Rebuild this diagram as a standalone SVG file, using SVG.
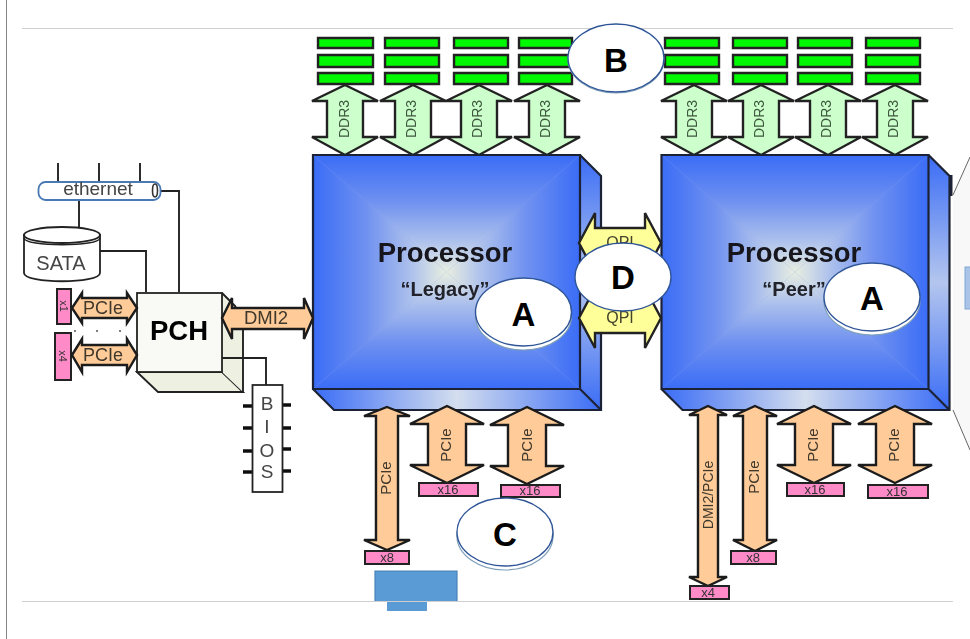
<svg xmlns="http://www.w3.org/2000/svg" width="970" height="639" viewBox="0 0 970 639">
<style>
text{font-family:"Liberation Sans",Arial,sans-serif;text-anchor:middle}
.ln{fill:none;stroke:#222;stroke-width:1.9}
.rule{stroke:#cfcfcf;stroke-width:1.2;fill:none}
.ram{fill:#00f800;stroke:#222;stroke-width:2.400}
.ddr{fill:#ccffcc;stroke:#222;stroke-width:2.400}
.pcie{fill:#ffcc99;stroke:#1a1a1a;stroke-width:2.400}
.qpi{fill:#ffff99;stroke:#222;stroke-width:2.400}
.pink{fill:#ff8ac8;stroke:#222;stroke-width:2}
.lab{fill:#3c563c;font-size:14px}
.pl{fill:#3f382c;font-size:15px}
.lbl{fill:#fff;stroke:#2f5597;stroke-width:1.4}
.sh{fill:#fff;stroke:#7f9fb8;stroke-width:1.2}
.big{font-family:"Liberation Sans",Arial,sans-serif;font-weight:bold;font-size:33px;fill:#000}
.proc{font-weight:bold;font-size:27.500px;fill:#14141a}
.sub{font-weight:bold;font-size:20px;fill:#22232c}
.edge{fill:none;stroke:#1f2435;stroke-width:2.200}
</style>
<defs>
<filter id="soft" x="0" y="0" width="970" height="639" filterUnits="userSpaceOnUse"><feGaussianBlur stdDeviation="0.6"/></filter>
<linearGradient id="gT" x1="0" y1="0" x2="0" y2="1"><stop offset="0" stop-color="#3a6cf6"/><stop offset="0.4" stop-color="#6f91f0"/><stop offset="0.75" stop-color="#b0c3ec"/><stop offset="1" stop-color="#e8eee0"/></linearGradient>
<linearGradient id="gB" x1="0" y1="1" x2="0" y2="0"><stop offset="0" stop-color="#3a6cf6"/><stop offset="0.4" stop-color="#6f91f0"/><stop offset="0.75" stop-color="#b0c3ec"/><stop offset="1" stop-color="#e8eee0"/></linearGradient>
<linearGradient id="gL" x1="0" y1="0" x2="1" y2="0"><stop offset="0" stop-color="#3a6cf6"/><stop offset="0.4" stop-color="#6f91f0"/><stop offset="0.75" stop-color="#b0c3ec"/><stop offset="1" stop-color="#e8eee0"/></linearGradient>
<linearGradient id="gR" x1="1" y1="0" x2="0" y2="0"><stop offset="0" stop-color="#3a6cf6"/><stop offset="0.4" stop-color="#6f91f0"/><stop offset="0.75" stop-color="#b0c3ec"/><stop offset="1" stop-color="#e8eee0"/></linearGradient>
<linearGradient id="gS" x1="0" y1="0" x2="0" y2="1"><stop offset="0" stop-color="#3a6cf6"/><stop offset="0.5" stop-color="#b4c6ee"/><stop offset="1" stop-color="#3a6cf6"/></linearGradient>
<linearGradient id="gH" x1="0" y1="0" x2="1" y2="0"><stop offset="0" stop-color="#3a6cf6"/><stop offset="0.5" stop-color="#d4deee"/><stop offset="1" stop-color="#3a6cf6"/></linearGradient>
<path id="a-ddr" d="M0 85L33 101H18V137H33L0 155L-33 137H-18V101H-33Z" class="ddr"/>
<path id="a-16" d="M0 0L37 18H19V59H37L0 77L-37 59H-19V18H-37Z" class="pcie"/>
<g id="cpu">
<rect x="0" y="0" width="267" height="234" fill="#84a3ee"/>
<path d="M0 0H267L133.500 117Z" fill="url(#gT)"/>
<path d="M0 234H267L133.500 117Z" fill="url(#gB)"/>
<path d="M0 0V234L133.500 117Z" fill="url(#gL)"/>
<path d="M267 0V234L133.500 117Z" fill="url(#gR)"/>
<path d="M267 0L288 21V255L267 234Z" fill="url(#gS)"/>
<path d="M0 234H267L288 255H21Z" fill="url(#gH)"/>
<path d="M0 0H267V234H0ZM267 0L288 21V255H21L0 234M267 234L288 255" class="edge"/>
</g>
</defs>

<g id="frame">
<path d="M6.500 0V639" fill="none" stroke="#888" stroke-width="1"/>
<path d="M22 28.500H953" class="rule"/>
<path d="M953 195L970 157V450L953 410Z" fill="#f8f8f8"/>
<path d="M953 195L970 157M953 410L970 450" fill="none" stroke="#666" stroke-width="1"/>
<rect x="965" y="267" width="6" height="42" fill="#a9c4e6" stroke="#7fa8d8"/>
</g>

<g filter="url(#soft)">
<g id="connectors">
<path class="ln" d="M58 163V182M99 163V182M140 163V182M79 200V228M160 191H179V292M100 251H146V292"/>
</g>

<g id="ethernet">
<rect x="38.500" y="182" width="122" height="18" rx="7" fill="#fff" stroke="#4a7ab5" stroke-width="1.800"/>
<ellipse cx="155" cy="190.500" rx="2.500" ry="6.500" fill="none" stroke="#333" stroke-width="1.600"/>
<text x="98" y="195" style="font-size:19px;fill:#444">ethernet</text>
</g>

<g id="sata">
<path d="M24 235V273C24 284 100 284 100 273V235Z" fill="#fff" stroke="#222" stroke-width="1.800"/>
<ellipse cx="62" cy="235" rx="38" ry="8" fill="#fff" stroke="#222" stroke-width="1.800"/>
<path d="M24 238C24 247 100 247 100 238" fill="none" stroke="#222" stroke-width="1.500"/>
<text x="61" y="270" style="font-size:20px;fill:#444">SATA</text>
</g>

<g id="pch">
<path d="M137 372L158 392H243L222 372Z" fill="#eef1e2" stroke="#222" stroke-width="1.800"/>
<path d="M222 293L243 315V392L222 372Z" fill="#eef1e2"/>
<path d="M222 293L236 307M243 328V392" class="ln"/>
<rect x="137" y="293" width="85" height="79" fill="#f9faf5" stroke="#222" stroke-width="1.800"/>
<text x="179" y="340" style="font-size:27.500px;font-weight:bold;fill:#000">PCH</text>
</g>

<g id="pcie-x1">
<rect x="57" y="289" width="14" height="35" class="pink"/>
<text transform="translate(60 306) rotate(90)" style="font-size:11px;fill:#333">x1</text>
<path d="M72 308L82 293V298H127V293L137 308L127 323V318H82V323Z" class="pcie"/>
<text x="103" y="314" class="pl" style="font-size:18px">PCIe</text>
</g>
<g id="pcie-x4">
<rect x="55" y="333" width="16" height="47" class="pink"/>
<text transform="translate(59 356) rotate(90)" style="font-size:11px;fill:#333">x4</text>
<path d="M72 355L82 339V345H127V339L137 355L127 372V365H82V372Z" class="pcie"/>
<text x="103" y="361" class="pl" style="font-size:18px">PCIe</text>
</g>
<g id="dots" fill="#555"><circle cx="75" cy="331" r="1"/><circle cx="97" cy="331" r="1"/><circle cx="120" cy="331" r="1"/></g>

<g id="bios">
<path d="M222 358H266V385" class="ln"/>
<path d="M243 406H252M243 428H252M243 451H252M243 472H252M282 405H291M282 428H291M282 449H291M282 471H291" fill="none" stroke="#111" stroke-width="3.600"/>
<rect x="252.500" y="385" width="30" height="107" fill="#fff" stroke="#222" stroke-width="1.800"/>
<g style="font-size:19px;fill:#444"><text x="267" y="410">B</text><text x="267" y="433">I</text><text x="267" y="457">O</text><text x="267" y="478">S</text></g>
</g>

<g id="ram-left">
<path class="ram" d="M318 38H373V48H318ZM318 55H373V67H318ZM318 73H373V84H318ZM385 38H439V48H385ZM385 55H439V67H385ZM385 73H439V84H385ZM454 38H508V48H454ZM454 55H508V67H454ZM454 73H508V84H454ZM519 38H572V48H519ZM519 55H572V67H519ZM519 73H572V84H519Z"/>
</g>
<g id="ram-right">
<path class="ram" d="M665 38H719V48H665ZM665 55H719V67H665ZM665 73H719V84H665ZM733 38H787V48H733ZM733 55H787V67H733ZM733 73H787V84H733ZM798 38H852V48H798ZM798 55H852V67H798ZM798 73H852V84H798ZM866 38H920V48H866ZM866 55H920V67H866ZM866 73H920V84H866Z"/>
</g>

<g id="ddr3-arrows">
<use href="#a-ddr" x="345"/><use href="#a-ddr" x="413"/><use href="#a-ddr" x="479"/><use href="#a-ddr" x="547"/>
<use href="#a-ddr" x="694"/><use href="#a-ddr" x="761"/><use href="#a-ddr" x="828"/><use href="#a-ddr" x="895"/>
<g class="lab">
<text transform="translate(349 119) rotate(-90)">DDR3</text><text transform="translate(416 119) rotate(-90)">DDR3</text><text transform="translate(482 119) rotate(-90)">DDR3</text><text transform="translate(550 119) rotate(-90)">DDR3</text>
<text transform="translate(697 119) rotate(-90)">DDR3</text><text transform="translate(764 119) rotate(-90)">DDR3</text><text transform="translate(831 119) rotate(-90)">DDR3</text><text transform="translate(898 119) rotate(-90)">DDR3</text>
</g>
</g>

<g id="processor-legacy">
<use href="#cpu" x="313" y="155"/>
<text x="445" y="262" class="proc">Processor</text>
<text x="445" y="296" class="sub">“Legacy”</text>
</g>
<g id="processor-peer">
<use href="#cpu" x="661.500" y="155"/>
<text x="794" y="262" class="proc">Processor</text>
<text x="794" y="296" class="sub">“Peer”</text>
</g>
<path id="right-edge" d="M951 175V196" fill="none" stroke="#1f2435" stroke-width="3"/>

<g id="dmi2">
<path d="M222 318L232 298V308H304V298L313 318L304 339V329H232V339Z" class="pcie"/>
<text x="266" y="324" class="pl" style="font-size:18.500px">DMI2</text>
</g>

<g id="qpi">
<path d="M579 243L595 213V228H645V213L661 243L645 273V258H595V273Z" class="qpi"/>
<path d="M579 318L595 288V303H645V288L661 318L645 348V333H595V348Z" class="qpi"/>
<g style="font-size:16px;fill:#44442c"><text x="620" y="248">QPI</text><text x="620" y="323">QPI</text></g>
</g>

<g id="pcie-left">
<path d="M387 407L410 416H398V540H410L387 550L364 540H376V416H364Z" class="pcie"/>
<use href="#a-16" x="447" y="406"/><use href="#a-16" x="527" y="407"/>
<g class="pl"><text transform="translate(391 478) rotate(-90)">PCIe</text><text transform="translate(451 445) rotate(-90)">PCIe</text><text transform="translate(532 445) rotate(-90)">PCIe</text></g>
<rect x="419" y="483" width="59" height="13" class="pink"/><rect x="501" y="485" width="59" height="12" class="pink"/><rect x="365" y="551" width="44" height="13" class="pink"/>
<g style="font-size:13px;fill:#333"><text x="448" y="494">x16</text><text x="530" y="495">x16</text><text x="387" y="562">x8</text></g>
</g>

<g id="pcie-right">
<path d="M708 406L727 415H718V577H727L708 586L689 577H698V415H689Z" class="pcie"/>
<path d="M755 406L777 416H767V540H777L755 551L733 540H743V416H733Z" class="pcie"/>
<use href="#a-16" x="814" y="406"/><use href="#a-16" x="895" y="406"/>
<g class="pl"><text transform="translate(713 495) rotate(-90)" style="font-size:14px">DMI2/PCIe</text><text transform="translate(759 477) rotate(-90)">PCIe</text><text transform="translate(818 445) rotate(-90)">PCIe</text><text transform="translate(899 445) rotate(-90)">PCIe</text></g>
<rect x="787" y="483" width="57" height="13" class="pink"/><rect x="868" y="485" width="60" height="13" class="pink"/><rect x="731" y="551" width="45" height="13" class="pink"/><rect x="690" y="586" width="39" height="13" class="pink"/>
<g style="font-size:13px;fill:#333"><text x="815" y="494">x16</text><text x="897" y="496">x16</text><text x="753" y="562">x8</text><text x="708" y="597">x4</text></g>
</g>
</g>

<g id="shape-bottom">
<path d="M375 571H457V602H427V611H387V602H375Z" fill="#5b9bd5"/>
<path d="M375 602V571H457V602" fill="none" stroke="#4a82b8" stroke-width="1.200"/>
<path d="M22 601.500H953" class="rule"/>
</g>

<g id="label-b"><ellipse cx="616" cy="59" rx="48" ry="34" class="sh"/><ellipse cx="616" cy="58" rx="48" ry="34" class="lbl"/><text x="616" y="72" class="big">B</text></g>
<g id="label-a1"><ellipse cx="523.500" cy="316" rx="48" ry="34" class="sh"/><ellipse cx="523.500" cy="312" rx="48" ry="34" class="lbl"/><text x="523.500" y="326" class="big">A</text></g>
<g id="label-a2"><ellipse cx="872" cy="301" rx="48" ry="34" class="sh"/><ellipse cx="872" cy="297" rx="48" ry="34" class="lbl"/><text x="872" y="310" class="big">A</text></g>
<g id="label-d"><ellipse cx="623" cy="277" rx="48" ry="34" class="lbl"/><text x="623" y="289" class="big">D</text></g>
<g id="label-c"><ellipse cx="505" cy="536" rx="48" ry="34" class="sh"/><ellipse cx="505" cy="532" rx="48" ry="34" class="lbl"/><text x="505" y="546" class="big">C</text></g>
</svg>
